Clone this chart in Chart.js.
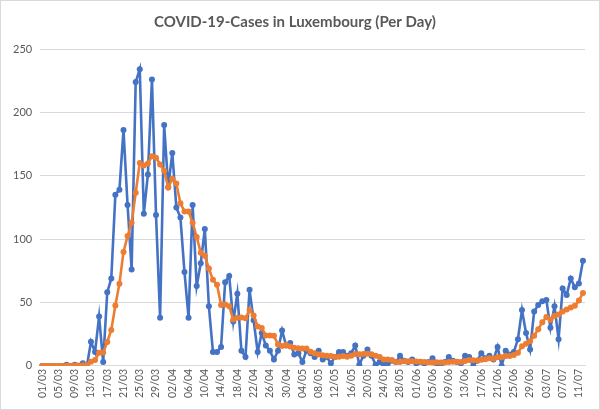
<!DOCTYPE html>
<html>
<head>
<meta charset="utf-8">
<script src="https://cdn.jsdelivr.net/npm/chart.js@4.4.1/dist/chart.umd.min.js"></script>
<style>
  html, body { margin: 0; padding: 0; background: #ffffff; }
  #wrap { position: relative; width: 598px; height: 408px; border: 1px solid #d9d9d9; }
</style>
</head>
<body>
<div id="wrap"><canvas id="c"></canvas></div>
<script>
const chartTitle = "COVID-19-Cases in Luxembourg (Per Day)";

const dates = [
  "01/03","02/03","03/03","04/03","05/03","06/03","07/03","08/03","09/03","10/03",
  "11/03","12/03","13/03","14/03","15/03","16/03","17/03","18/03","19/03","20/03",
  "21/03","22/03","23/03","24/03","25/03","26/03","27/03","28/03","29/03","30/03","31/03",
  "01/04","02/04","03/04","04/04","05/04","06/04","07/04","08/04","09/04","10/04",
  "11/04","12/04","13/04","14/04","15/04","16/04","17/04","18/04","19/04","20/04",
  "21/04","22/04","23/04","24/04","25/04","26/04","27/04","28/04","29/04","30/04",
  "01/05","02/05","03/05","04/05","05/05","06/05","07/05","08/05","09/05","10/05",
  "11/05","12/05","13/05","14/05","15/05","16/05","17/05","18/05","19/05","20/05",
  "21/05","22/05","23/05","24/05","25/05","26/05","27/05","28/05","29/05","30/05","31/05",
  "01/06","02/06","03/06","04/06","05/06","06/06","07/06","08/06","09/06","10/06",
  "11/06","12/06","13/06","14/06","15/06","16/06","17/06","18/06","19/06","20/06",
  "21/06","22/06","23/06","24/06","25/06","26/06","27/06","28/06","29/06","30/06",
  "01/07","02/07","03/07","04/07","05/07","06/07","07/07","08/07","09/07","10/07",
  "11/07","12/07"
];

const dailyCases = [
  0,0,0,0,0,0,1,0,1,0,
  2,0,19,11,39,3,58,69,135,139,
  186,127,76,224,234,120,151,226,119,38,190,
  141,168,125,117,74,38,127,63,81,108,
  47,11,11,15,66,71,35,57,12,7,
  60,36,11,26,16,12,5,12,28,16,
  18,9,10,3,12,10,7,12,5,7,
  2,7,11,11,8,10,16,1,8,13,
  8,1,3,1,2,4,3,8,4,3,5,
  2,3,2,3,6,2,1,3,7,4,
  3,2,8,7,0,4,10,6,8,5,
  15,0,12,9,11,21,44,26,13,43,
  48,51,52,30,47,21,61,56,69,62,
  65,83
];

const averageCases = [
  0,0,0,0,0,0,0.1,0.1,0.3,0.3,
  0.6,0.6,3.3,4.7,10.3,10.6,18.9,28.4,47.7,64.9,
  89.9,102.4,112.9,136.6,160.1,158,159.7,165.4,164.3,158.9,154,
  140.7,147.6,143.9,128.3,121.9,121.9,112.9,101.7,89.3,86.9,
  76.9,67.9,64,48,48.4,47,36.6,38,38.1,37.6,
  44,39.7,31.1,29.9,24,24,23.7,16.9,15.7,16.4,
  15.3,14.3,14,13.7,13.7,11.1,9.9,9,8.4,8,
  7.9,7.1,7.3,7.9,7.3,8,9.3,9.1,9.3,9.6,
  9.1,8.1,7.1,5,5.1,4.6,3.1,3.1,3.6,3.6,3.6,
  3.4,3.2,3.1,2.8,2.7,2.8,2.6,2.7,3.1,3.2,
  3.3,3.1,3.9,4.6,4.4,4.2,4.8,5.3,6,5.7,
  6.8,6.9,7.8,7.9,8.6,10.4,15.5,17.4,19.4,23.8,
  29,34.5,38.5,36.5,39.5,40.5,43,44.5,46,47.5,
  51.5,57.5
];

const yTicks = [0, 50, 100, 150, 200, 250];

new Chart(document.getElementById('c'), {
  type: 'line',
  data: {
    labels: dates,
    datasets: [
      {
        label: 'Cases per day',
        data: dailyCases,
        borderColor: '#4472C4',
        backgroundColor: '#4472C4',
        borderWidth: 2.6,
        pointRadius: 3,
        pointBorderWidth: 0,
        pointBackgroundColor: '#4472C4',
        tension: 0,
        order: 2
      },
      {
        label: '7-day average',
        data: averageCases,
        borderColor: '#ED7D31',
        backgroundColor: '#ED7D31',
        borderWidth: 2.6,
        pointRadius: 3,
        pointBorderWidth: 0,
        pointBackgroundColor: '#ED7D31',
        tension: 0,
        order: 1
      }
    ]
  },
  options: {
    responsive: true,
    maintainAspectRatio: false,
    animation: false,
    layout: { padding: { left: 4, right: 14, top: 4, bottom: 8 } },
    plugins: {
      legend: { display: false },
      tooltip: { enabled: false },
      title: {
        display: true,
        text: chartTitle,
        color: '#595959',
        font: { family: 'Lato, "Open Sans", sans-serif', size: 15, weight: 'bold' },
        padding: { top: 8, bottom: 18 }
      }
    },
    scales: {
      x: {
        offset: true,
        grid: { display: false, drawTicks: false },
        border: { display: true, color: '#d9d9d9' },
        ticks: {
          autoSkip: false,
          maxRotation: 90,
          minRotation: 90,
          color: '#595959',
          font: { family: 'Lato, "Open Sans", sans-serif', size: 10.5 },
          padding: 3,
          callback: function(v, i) { return i % 4 === 0 ? dates[i] : ''; }
        }
      },
      y: {
        min: 0,
        max: 250,
        afterBuildTicks: function(axis) { axis.ticks = yTicks.map(v => ({ value: v })); },
        grid: { color: '#d9d9d9', drawTicks: false },
        border: { display: false },
        ticks: {
          color: '#595959',
          font: { family: 'Lato, "Open Sans", sans-serif', size: 11 },
          padding: 8
        }
      }
    }
  }
});
</script>
</body>
</html>
